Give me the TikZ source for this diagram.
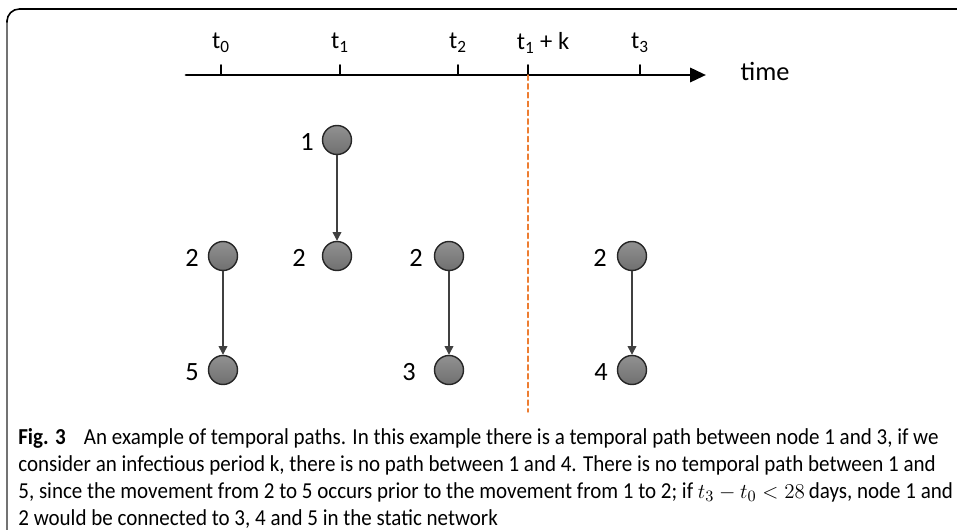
\documentclass[tikz,border=0pt]{standalone}
\usepackage{fontspec}
\setmainfont{Carlito}
\newfontfamily\capfont[FakeStretch=0.92]{Carlito}
\usepackage{amsmath}
\usetikzlibrary{arrows.meta}
\definecolor{nodetop}{RGB}{145,145,145}
\definecolor{nodebot}{RGB}{112,112,112}
\definecolor{limitorange}{RGB}{237,125,49}

\begin{document}
\begin{tikzpicture}[line cap=round,line join=round,x=0.02cm,y=-0.02cm,
  farm/.style={circle,draw=black!85,line width=0.8pt,top color=nodetop,bottom color=nodebot,minimum size=0.58cm,inner sep=0pt},
  farmlabel/.style={font=\fontsize{15}{18}\selectfont},
  move/.style={-{Triangle[length=5pt,width=5pt]},draw=black!75,line width=0.7pt}]
\useasboundingbox (0,0) rectangle (957,530);

% frame
\draw [line width=0.9pt, black!55] (7,530) -- (7,20);
\draw [line width=0.9pt, rounded corners=7pt] (7,22) -- (7,9) -- (957,9);

% time axis
\coordinate (start) at (186,75);
\coordinate (end) at (706,75);
\draw [-{Triangle[length=9pt,width=8pt]}, line width=1.6pt] (start) -- (end);
\node [font=\fontsize{15}{18}\selectfont] (time) at (765,71) {time};
\foreach \x/\name/\lab in {221/t0/{t\textsubscript{0}}, 340/t1/{t\textsubscript{1}}, 458/t2/{t\textsubscript{2}}, 528/tk/{}, 640/t3/{t\textsubscript{3}}}
{
  \coordinate (\name) at (\x,75);
  \draw [line width=0.9pt] (\x,65) -- (\name);
  \node [font=\fontsize{14}{16}\selectfont] at (\x,43) {\lab};
}
\node [font=\fontsize{14}{16}\selectfont] (tklabel) at (543,43) {t\textsubscript{1} + k};

% end of the infectious period
\coordinate (kend) at (528,412);
\draw [limitorange, line width=0.8pt, dash pattern=on 3pt off 2pt] (tk) -- (kend);

% farms
\node [farm] (a2) at (223,256) {};
\node [farm] (a5) at (223,370) {};
\node [farm] (b1) at (337,140) {};
\node [farm] (b2) at (337,256) {};
\node [farm] (c2) at (449,256) {};
\node [farm] (c3) at (449,370) {};
\node [farm] (d2) at (632,256) {};
\node [farm] (d4) at (632,370) {};

\node [farmlabel] at (192,258) {2};
\node [farmlabel] at (192,372) {5};
\node [farmlabel] at (307,142) {1};
\node [farmlabel] at (299,258) {2};
\node [farmlabel] at (416,258) {2};
\node [farmlabel] at (409,372) {3};
\node [farmlabel] at (600,258) {2};
\node [farmlabel] at (601,372) {4};

% movements
\draw [move] (a2) -- (a5);
\draw [move] (b1) -- (b2);
\draw [move] (c2) -- (c3);
\draw [move] (d2) -- (d4);

% caption
\node [anchor=north west, inner sep=0pt, align=left, font=\capfont\fontsize{13}{15.3}\selectfont] (caption) at (18,428)
{\textbf{Fig. 3}\hspace{0.8em}An example of temporal paths. In this example there is a temporal path between node 1 and 3, if we\\
consider an infectious period k, there is no path between 1 and 4. There is no temporal path between 1 and\\
5, since the movement from 2 to 5 occurs prior to the movement from 1 to 2; if $t_3 - t_0 < 28$\,days, node 1 and\\
2 would be connected to 3, 4 and 5 in the static network};
\end{tikzpicture}
\end{document}
